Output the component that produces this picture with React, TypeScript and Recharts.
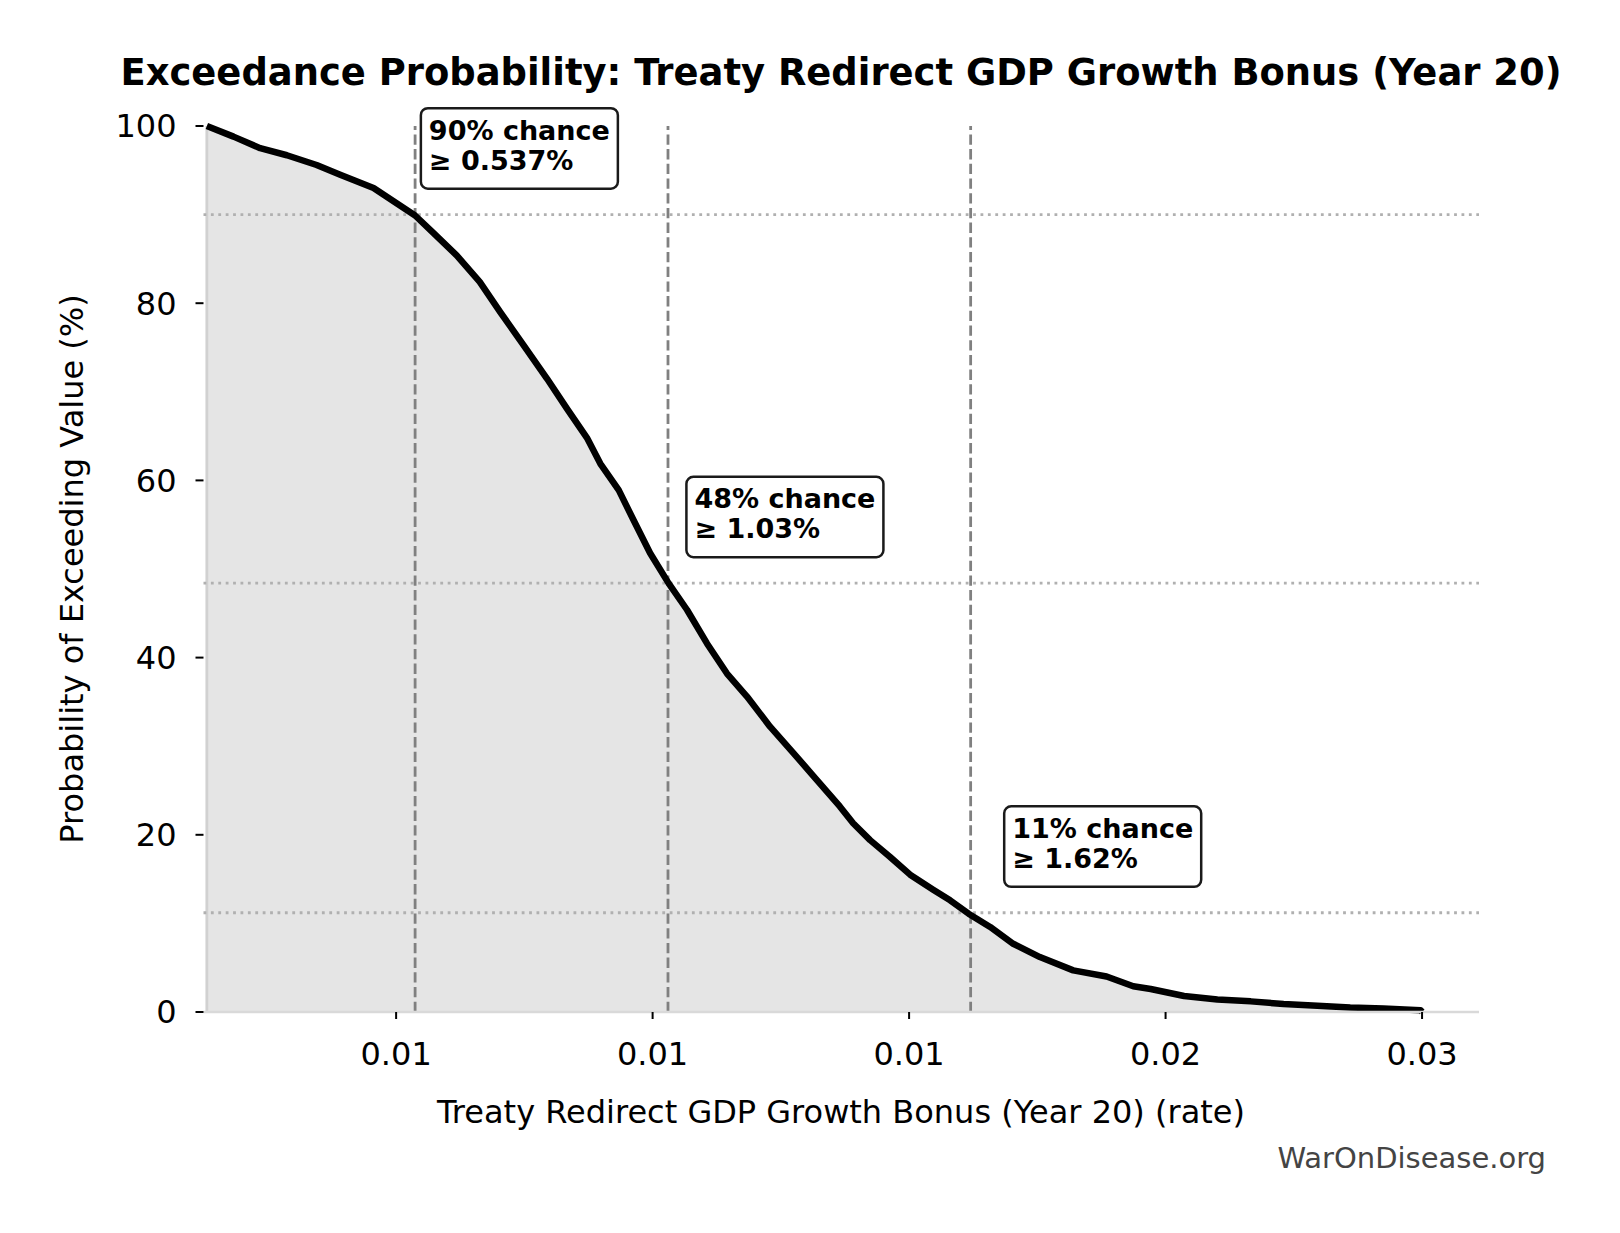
import {
  ComposedChart,
  Area,
  Line,
  XAxis,
  YAxis,
  ReferenceLine,
  ReferenceDot,
} from 'recharts'

// Exceedance curve: growth bonus rate vs. % of runs exceeding it
const bonusRate = [
  0.00131, 0.00183, 0.00235, 0.00287, 0.00345, 0.00391, 0.00456, 0.00495, 0.00537,
  0.00573, 0.00618, 0.00663, 0.00703, 0.00748, 0.00794, 0.00833, 0.00872, 0.00898,
  0.00934, 0.00963, 0.00995, 0.01031, 0.01067, 0.01106, 0.01145, 0.01184, 0.01229,
  0.01275, 0.01314, 0.01365, 0.01391, 0.01424, 0.01463, 0.01502, 0.01547, 0.0158,
  0.01616, 0.01658, 0.01703, 0.01755, 0.0182, 0.01885, 0.01937, 0.01971, 0.02036,
  0.02101, 0.02166, 0.0223, 0.02296, 0.0236, 0.02425, 0.02497, 0.025,
]
const exceedPct = [
  100, 98.8, 97.5, 96.7, 95.6, 94.5, 93.0, 91.5, 89.9,
  87.9, 85.4, 82.4, 79.0, 75.3, 71.5, 68.1, 64.8, 61.9,
  58.9, 55.5, 51.8, 48.4, 45.4, 41.6, 38.2, 35.6, 32.2,
  29.2, 26.6, 23.2, 21.3, 19.4, 17.5, 15.5, 13.8, 12.6,
  11.1, 9.6, 7.7, 6.2, 4.7, 4.0, 2.9, 2.6, 1.8,
  1.4, 1.2, 0.9, 0.7, 0.5, 0.4, 0.2, 0,
]

const xTicks = [0.005, 0.01, 0.015, 0.02, 0.025]
const xTickLabels = ['0.01', '0.01', '0.01', '0.02', '0.03']
const yTicks = [0, 20, 40, 60, 80, 100]

// percentile markers
const markerRate = [0.00537, 0.0103, 0.0162]
const markerPct = [90, 48.4, 11.2]
const markerChance = ['90% chance', '48% chance', '11% chance']
const markerValue = ['≥ 0.537%', '≥ 1.03%', '≥ 1.62%']

const data = bonusRate.map((x, i) => ({ x, p: exceedPct[i] }))

const FONT = '"DejaVu Sans", sans-serif'

function NoteBox(props: any) {
  const { cx, cy, top, bottom } = props
  return (
    <g>
      <rect
        x={cx - 8}
        y={cy - 40}
        width={197}
        height={80.5}
        rx={7}
        fill="#fff"
        stroke="#1a1a1a"
        strokeWidth={2.5}
      />
      <text x={cx} y={cy - 8.5} fontSize={27} fontWeight="bold" fontFamily={FONT} fill="#000">
        {top}
      </text>
      <text x={cx} y={cy + 21.5} fontSize={27} fontWeight="bold" fontFamily={FONT} fill="#000">
        {bottom}
      </text>
    </g>
  )
}

export default function App() {
  return (
    <div
      style={{
        position: 'absolute',
        left: 0,
        top: 0,
        width: 1620,
        height: 1233,
        background: '#fff',
      }}
    >
      <ComposedChart
        width={1620}
        height={1233}
        data={data}
        margin={{ top: 126, right: 141, bottom: 161, left: 0 }}
      >
        <XAxis
          dataKey="x"
          type="number"
          domain={[0.001245, 0.02611]}
          ticks={xTicks}
          tickFormatter={(v: number) => xTickLabels[xTicks.indexOf(v)]}
          height={60}
          axisLine={{ stroke: '#d9d9d9', strokeWidth: 2.5 }}
          tickLine={{ stroke: '#000', strokeWidth: 2 }}
          tickSize={7}
          tickMargin={23}
          tick={{ fill: '#000', fontSize: 32, fontFamily: FONT }}
        />
        <YAxis
          type="number"
          domain={[0, 100]}
          ticks={yTicks}
          width={203.5}
          axisLine={false}
          tickLine={{ stroke: '#000', strokeWidth: 2 }}
          tickSize={8}
          tickMargin={19}
          tick={{ fill: '#000', fontSize: 32, fontFamily: FONT }}
        />
        <Area
          dataKey="p"
          type="linear"
          stroke="none"
          fill="#e5e5e5"
          fillOpacity={1}
          isAnimationActive={false}
        />
        <ReferenceLine x={bonusRate[0]} stroke="#d1d1d1" strokeWidth={2.8} />
        {markerPct.map((p) => (
          <ReferenceLine
            key={`h${p}`}
            y={p}
            stroke="#b0b0b0"
            strokeWidth={2.8}
            strokeDasharray="2.8 4.6"
          />
        ))}
        {markerRate.map((r) => (
          <ReferenceLine
            key={`v${r}`}
            x={r}
            stroke="#808080"
            strokeWidth={2.8}
            strokeDasharray="10.3 4.4"
          />
        ))}
        <Line
          dataKey="p"
          type="linear"
          stroke="#000"
          strokeWidth={6.5}
          strokeLinejoin="round"
          dot={false}
          activeDot={false}
          isAnimationActive={false}
        />
        {markerRate.map((r, i) => (
          <ReferenceDot
            key={`n${r}`}
            x={r * 1.05}
            y={markerPct[i] + 7.5}
            ifOverflow="visible"
            shape={(props: any) => (
              <NoteBox {...props} top={markerChance[i]} bottom={markerValue[i]} />
            )}
          />
        ))}
      </ComposedChart>
      <svg
        width={1620}
        height={1233}
        style={{ position: 'absolute', left: 0, top: 0, pointerEvents: 'none' }}
      >
        <text
          x={841}
          y={85}
          textAnchor="middle"
          fontSize={36.9}
          fontWeight="bold"
          fontFamily={FONT}
          fill="#000"
        >
          Exceedance Probability: Treaty Redirect GDP Growth Bonus (Year 20)
        </text>
        <text
          x={841}
          y={1123}
          textAnchor="middle"
          fontSize={32}
          fontFamily={FONT}
          fill="#000"
        >
          Treaty Redirect GDP Growth Bonus (Year 20) (rate)
        </text>
        <text
          x={83}
          y={569}
          textAnchor="middle"
          fontSize={32}
          fontFamily={FONT}
          fill="#000"
          transform="rotate(-90 83 569)"
        >
          Probability of Exceeding Value (%)
        </text>
        <text
          x={1546}
          y={1168}
          textAnchor="end"
          fontSize={29}
          fontFamily={FONT}
          fill="#444"
        >
          WarOnDisease.org
        </text>
      </svg>
    </div>
  )
}
